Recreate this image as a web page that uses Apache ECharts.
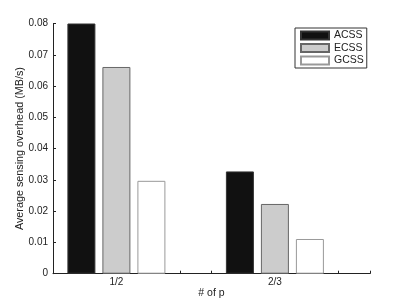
<!DOCTYPE html>
<html><head><meta charset="utf-8">
<script src="https://cdn.jsdelivr.net/npm/echarts@6/dist/echarts.min.js"></script>
<style>html,body{margin:0;padding:0;background:#fff}#c{width:409px;height:308px}</style>
</head><body><div id="c"></div>
<script>
const categories = ['1/2', '2/3'];
const seriesNames = ['ACSS', 'ECSS', 'GCSS'];
const acss = [0.08, 0.0327];
const ecss = [0.0661, 0.0223];
const gcss = [0.0297, 0.0111];
const yTicks = [0, 0.01, 0.02, 0.03, 0.04, 0.05, 0.06, 0.07, 0.08];

const styles = [
  {color: '#111111', borderColor: '#333333'},
  {color: '#cccccc', borderColor: '#666666'},
  {color: '#ffffff', borderColor: '#999999'}
];
const values = [acss, ecss, gcss];
const font = 'Liberation Sans, Arial, sans-serif';
const chart = echarts.init(document.getElementById('c'), null, {renderer: 'canvas'});
chart.setOption({
  animation: false,
  backgroundColor: '#fff',
  grid: {left: 53, right: 39, top: 23.5, bottom: 34.3, containLabel: false, outerBoundsMode: 'none'},
  legend: {
    orient: 'vertical', left: 295, top: 28,
    itemWidth: 28, itemHeight: 8, itemGap: 1.5,
    padding: [2, 3, 2, 5],
    borderColor: '#333', borderWidth: 1, backgroundColor: '#fff',
    icon: 'rect',
    textStyle: {fontFamily: font, fontSize: 10.5, color: '#222', lineHeight: 11},
    data: seriesNames
  },
  xAxis: {
    type: 'value', min: 0.6, max: 2.6, interval: 0.2,
    name: '# of p', nameLocation: 'middle', nameGap: 14, nameMoveOverlap: false,
    nameTextStyle: {fontFamily: font, fontSize: 10.5, color: '#222', verticalAlign: 'top'},
    axisLine: {show: true, lineStyle: {color: '#222', width: 1}},
    axisTick: {show: true, inside: true, length: 3, lineStyle: {color: '#222'}},
    splitLine: {show: false},
    axisLabel: {
      fontFamily: font, fontSize: 10, color: '#222', margin: 4,
      formatter: function (v) {
        for (let i = 0; i < categories.length; i++) {
          if (Math.abs(v - (i + 1)) < 1e-6) return categories[i];
        }
        return '';
      }
    }
  },
  yAxis: {
    type: 'value', min: yTicks[0], max: yTicks[yTicks.length - 1], interval: 0.01,
    name: 'Average sensing overhead (MB/s)', nameLocation: 'middle', nameGap: 27, nameMoveOverlap: false,
    nameTextStyle: {fontFamily: font, fontSize: 10.8, color: '#222'},
    axisLine: {show: true, lineStyle: {color: '#222', width: 1}},
    axisTick: {show: true, inside: true, length: 3, lineStyle: {color: '#222'}},
    splitLine: {show: false},
    axisLabel: {fontFamily: font, fontSize: 10, color: '#222', margin: 5,
      formatter: function (v) { return String(+v.toFixed(2)); }}
  },
  series: seriesNames.map(function (name, s) {
    return {
      name: name, type: 'bar', barWidth: 28, barGap: '25%',
      itemStyle: {color: styles[s].color, borderColor: styles[s].borderColor, borderWidth: 1},
      data: values[s].map(function (v, i) { return [i + 1, v]; })
    };
  })
});
</script></body></html>
